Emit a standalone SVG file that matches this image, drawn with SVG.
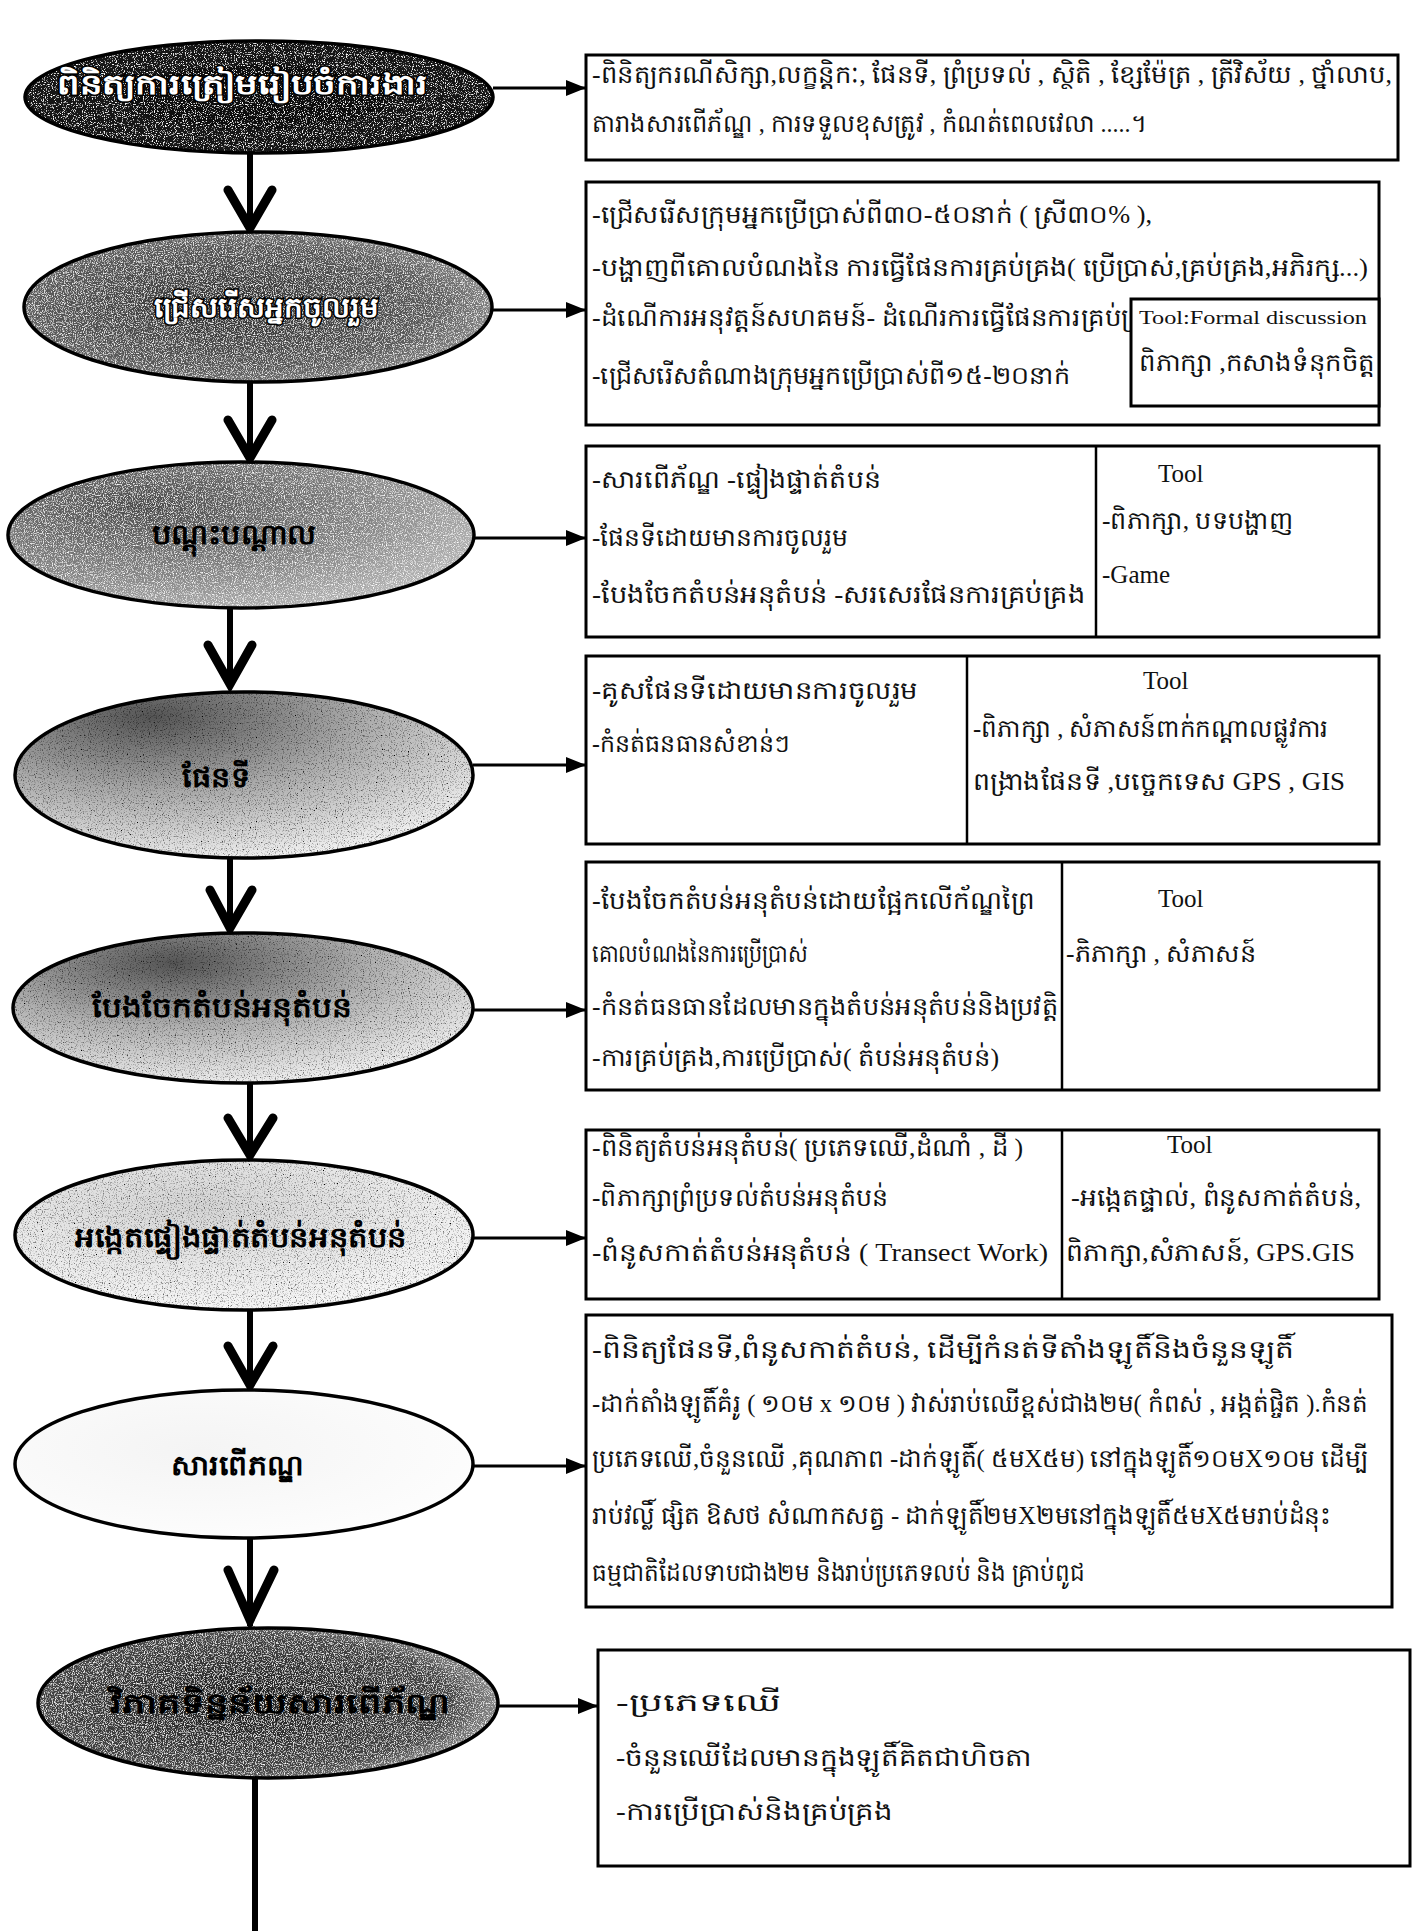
<svg xmlns="http://www.w3.org/2000/svg" width="1415" height="1931" viewBox="0 0 1415 1931">
<style>
.bg{fill:#fff}
.box{fill:#fff;stroke:#000;stroke-width:3}
.div{stroke:#000;stroke-width:2.5}
.t{font-family:"Liberation Serif","DejaVu Serif",serif;font-size:25px;fill:#111}
.tl{font-family:"Liberation Serif","DejaVu Serif",serif;font-size:25px;fill:#111}
.ts{font-family:"Liberation Serif","DejaVu Serif",serif;font-size:19px;fill:#111}
.lbl{font-family:"Liberation Sans","DejaVu Sans",sans-serif;font-size:28px;font-weight:bold;text-anchor:middle;fill:#000}
.lblw{font-family:"Liberation Sans","DejaVu Sans",sans-serif;font-size:28px;font-weight:bold;text-anchor:middle;fill:#fff;stroke:#000;stroke-width:3;paint-order:stroke}
.eo{fill:none;stroke:#000;stroke-width:3.5}
.v{stroke:#000;stroke-width:6;fill:none}
.vh{stroke:#000;stroke-width:9;fill:none;stroke-linecap:round;stroke-linejoin:miter}
.h{stroke:#000;stroke-width:3;fill:none}
</style>
<defs>
<marker id="tri" markerWidth="20" markerHeight="16" refX="19" refY="8" orient="auto" markerUnits="userSpaceOnUse" viewBox="0 0 20 16">
<path d="M0,0 L20,8 L0,16 z" fill="#000"/>
</marker>
<filter id="grain" x="0" y="0" width="100%" height="100%">
<feTurbulence type="fractalNoise" baseFrequency="0.9" numOctaves="2" seed="4" result="n"/>
<feColorMatrix in="n" type="matrix" values="0 0 0 0 1  0 0 0 0 1  0 0 0 0 1  0 0 0 -3 1.55" result="w"/>
<feComposite in="w" in2="SourceGraphic" operator="in" result="ws"/>
<feMerge><feMergeNode in="SourceGraphic"/><feMergeNode in="ws"/></feMerge>
</filter>
<filter id="grainL" x="0" y="0" width="100%" height="100%">
<feTurbulence type="fractalNoise" baseFrequency="0.9" numOctaves="2" seed="7" result="n"/>
<feColorMatrix in="n" type="matrix" values="0 0 0 0 1  0 0 0 0 1  0 0 0 0 1  0 0 0 -5 2.15" result="w"/>
<feComposite in="w" in2="SourceGraphic" operator="in" result="ws"/>
<feMerge><feMergeNode in="SourceGraphic"/><feMergeNode in="ws"/></feMerge>
</filter>
<filter id="grainD" x="0" y="0" width="100%" height="100%">
<feTurbulence type="fractalNoise" baseFrequency="0.85" numOctaves="2" seed="9" result="n"/>
<feColorMatrix in="n" type="matrix" values="0 0 0 0 0  0 0 0 0 0  0 0 0 0 0  0 0 0 -3 1.45" result="w"/>
<feComposite in="w" in2="SourceGraphic" operator="in" result="ws"/>
<feMerge><feMergeNode in="SourceGraphic"/><feMergeNode in="ws"/></feMerge>
</filter>
<radialGradient id="g1" cx="0.5" cy="0.5" r="0.6"><stop offset="0" stop-color="#080808"/><stop offset="1" stop-color="#1c1c1c"/></radialGradient>
<radialGradient id="g2" cx="0.45" cy="0.5" r="0.6"><stop offset="0" stop-color="#2e2e2e"/><stop offset="0.7" stop-color="#5a5a5a"/><stop offset="1" stop-color="#909090"/></radialGradient>
<radialGradient id="g3" cx="0.3" cy="0.3" r="0.8"><stop offset="0" stop-color="#4a4a4a"/><stop offset="0.6" stop-color="#858585"/><stop offset="1" stop-color="#b8b8b8"/></radialGradient>
<radialGradient id="g4" cx="0.3" cy="0.15" r="0.9"><stop offset="0" stop-color="#555"/><stop offset="0.5" stop-color="#aaa"/><stop offset="1" stop-color="#f2f2f2"/></radialGradient>
<radialGradient id="g5" cx="0.35" cy="0.2" r="0.85"><stop offset="0" stop-color="#555"/><stop offset="0.5" stop-color="#b0b0b0"/><stop offset="1" stop-color="#f3f3f3"/></radialGradient>
<radialGradient id="g6" cx="0.4" cy="0.3" r="0.8"><stop offset="0" stop-color="#d4d4d4"/><stop offset="1" stop-color="#fbfbfb"/></radialGradient>
<radialGradient id="g7" cx="0.4" cy="0.4" r="0.8"><stop offset="0" stop-color="#f4f4f4"/><stop offset="1" stop-color="#fff"/></radialGradient>
<radialGradient id="g8" cx="0.45" cy="0.5" r="0.6"><stop offset="0" stop-color="#1a1a1a"/><stop offset="0.75" stop-color="#444"/><stop offset="1" stop-color="#aaa"/></radialGradient>
</defs>
<rect class="bg" x="0" y="0" width="1415" height="1931"/>

<g id="connectors">
<line class="v" x1="250" y1="153" x2="250" y2="230"/>
<polyline class="vh" points="228,190 250,228 272,190"/>
<line class="v" x1="250" y1="382" x2="250" y2="460"/>
<polyline class="vh" points="228,420 250,458 272,420"/>
<line class="v" x1="230" y1="608" x2="230" y2="688"/>
<polyline class="vh" points="208,645 230,684 252,645"/>
<line class="v" x1="230" y1="858" x2="230" y2="932"/>
<polyline class="vh" points="210,890 230,928 252,890"/>
<line class="v" x1="250" y1="1083" x2="250" y2="1158"/>
<polyline class="vh" points="228,1118 250,1155 273,1118"/>
<line class="v" x1="250" y1="1310" x2="250" y2="1388"/>
<polyline class="vh" points="228,1346 250,1385 273,1346"/>
<line class="v" x1="250" y1="1538" x2="250" y2="1626"/>
<polyline class="vh" points="228,1570 250,1620 274,1570"/>
<line class="v" x1="255" y1="1778" x2="255" y2="1931"/>
<line class="h" x1="493" y1="88" x2="585" y2="88" marker-end="url(#tri)"/>
<line class="h" x1="492" y1="310" x2="585" y2="310" marker-end="url(#tri)"/>
<line class="h" x1="473" y1="538" x2="585" y2="538" marker-end="url(#tri)"/>
<line class="h" x1="473" y1="765" x2="585" y2="765" marker-end="url(#tri)"/>
<line class="h" x1="473" y1="1010" x2="585" y2="1010" marker-end="url(#tri)"/>
<line class="h" x1="473" y1="1238" x2="585" y2="1238" marker-end="url(#tri)"/>
<line class="h" x1="473" y1="1466" x2="585" y2="1466" marker-end="url(#tri)"/>
<line class="h" x1="498" y1="1706" x2="597" y2="1706" marker-end="url(#tri)"/>
</g>

<g id="node-e1">
<ellipse cx="259" cy="97" rx="234" ry="56" fill="url(#g1)" filter="url(#grainL)"/>
<ellipse class="eo" cx="259" cy="97" rx="234" ry="56"/>
<text class="lblw" x="242" y="94" textLength="370" lengthAdjust="spacingAndGlyphs">ពិនិត្យការត្រៀមរៀបចំការងារ</text>
</g>
<g id="node-e2">
<ellipse cx="258" cy="307" rx="234" ry="75" fill="url(#g2)" filter="url(#grain)"/>
<ellipse class="eo" cx="258" cy="307" rx="234" ry="75"/>
<text class="lblw" x="266" y="317" textLength="225" lengthAdjust="spacingAndGlyphs">ជ្រើសរើសអ្នកចូលរួម</text>
</g>
<g id="node-e3">
<ellipse cx="241" cy="535" rx="233" ry="73" fill="url(#g3)" filter="url(#grain)"/>
<ellipse class="eo" cx="241" cy="535" rx="233" ry="73"/>
<text class="lbl" x="234" y="544" textLength="165" lengthAdjust="spacingAndGlyphs">បណ្តុះបណ្តាល</text>
</g>
<g id="node-e4">
<ellipse cx="244" cy="775" rx="229" ry="83" fill="url(#g4)" filter="url(#grainD)"/>
<ellipse class="eo" cx="244" cy="775" rx="229" ry="83"/>
<text class="lbl" x="216" y="787" textLength="68" lengthAdjust="spacingAndGlyphs">ផែនទី</text>
</g>
<g id="node-e5">
<ellipse cx="243" cy="1008" rx="230" ry="75" fill="url(#g5)" filter="url(#grainD)"/>
<ellipse class="eo" cx="243" cy="1008" rx="230" ry="75"/>
<text class="lbl" x="222" y="1017" textLength="261" lengthAdjust="spacingAndGlyphs">បែងចែកតំបន់អនុតំបន់</text>
</g>
<g id="node-e6">
<ellipse cx="244" cy="1235" rx="229" ry="75" fill="url(#g6)" filter="url(#grainD)"/>
<ellipse class="eo" cx="244" cy="1235" rx="229" ry="75"/>
<text class="lbl" x="241" y="1247" textLength="332" lengthAdjust="spacingAndGlyphs">អង្កេតផ្ទៀងផ្ទាត់តំបន់អនុតំបន់</text>
</g>
<g id="node-e7">
<ellipse cx="244" cy="1464" rx="229" ry="74" fill="url(#g7)"/>
<ellipse class="eo" cx="244" cy="1464" rx="229" ry="74"/>
<text class="lbl" x="237" y="1475" textLength="133" lengthAdjust="spacingAndGlyphs">សារពើភណ្ឌ</text>
</g>
<g id="node-e8">
<ellipse cx="268" cy="1703" rx="230" ry="75" fill="url(#g8)" filter="url(#grain)"/>
<ellipse class="eo" cx="268" cy="1703" rx="230" ry="75"/>
<text class="lbl" x="280" y="1713" textLength="340" lengthAdjust="spacingAndGlyphs">វិភាគទិន្នន័យសារពើភ័ណ្ឌ</text>
</g>

<g id="box-b1">
<rect class="box" x="586" y="55" width="812" height="105"/>
<text class="t" x="592" y="83" textLength="800" lengthAdjust="spacingAndGlyphs">-ពិនិត្យករណីសិក្សា,លក្ខន្តិកៈ, ផែនទី, ព្រំប្រទល់ , ស្ថិតិ , ខ្សែម៉ែត្រ , ត្រីវិស័យ , ថ្នាំលាប,</text>
<text class="t" x="592" y="132" textLength="554" lengthAdjust="spacingAndGlyphs">តារាងសារពើភ័ណ្ឌ , ការទទួលខុសត្រូវ , កំណត់ពេលវេលា .....។</text>
</g>

<g id="box-b2">
<rect class="box" x="586" y="182" width="793" height="243"/>
<text class="t" x="592" y="223" textLength="560" lengthAdjust="spacingAndGlyphs">-ជ្រើសរើសក្រុមអ្នកប្រើប្រាស់ពី៣០-៥០នាក់ ( ស្រី៣០% ),</text>
<text class="t" x="592" y="276" textLength="776" lengthAdjust="spacingAndGlyphs">-បង្ហាញពីគោលបំណងនៃ ការធ្វើផែនការគ្រប់គ្រង( ប្រើប្រាស់,គ្រប់គ្រង,អភិរក្ស...)</text>
<text class="t" x="592" y="326" textLength="570" lengthAdjust="spacingAndGlyphs">-ដំណើការអនុវត្តន៍សហគមន៍- ដំណើរការធ្វើផែនការគ្រប់គ្រង</text>
<text class="t" x="592" y="384" textLength="478" lengthAdjust="spacingAndGlyphs">-ជ្រើសរើសតំណាងក្រុមអ្នកប្រើប្រាស់ពី១៥-២០នាក់</text>
<rect class="box" x="1131" y="299" width="248" height="107"/>
<text class="ts" x="1139" y="324" textLength="228" lengthAdjust="spacingAndGlyphs">Tool:Formal discussion</text>
<text class="t" x="1139" y="371" textLength="236" lengthAdjust="spacingAndGlyphs">ពិភាក្សា ,កសាងទំនុកចិត្ត</text>
</g>

<g id="box-b3">
<rect class="box" x="586" y="446" width="793" height="191"/>
<line class="div" x1="1096" y1="446" x2="1096" y2="637"/>
<text class="t" x="592" y="488" textLength="289" lengthAdjust="spacingAndGlyphs">-សារពើភ័ណ្ឌ -ផ្ទៀងផ្ទាត់តំបន់</text>
<text class="t" x="592" y="546" textLength="256" lengthAdjust="spacingAndGlyphs">-ផែនទីដោយមានការចូលរួម</text>
<text class="t" x="592" y="603" textLength="493" lengthAdjust="spacingAndGlyphs">-បែងចែកតំបន់អនុតំបន់ -សរសេរផែនការគ្រប់គ្រង</text>
<text class="tl" x="1158" y="482">Tool</text>
<text class="t" x="1102" y="529" textLength="191" lengthAdjust="spacingAndGlyphs">-ពិភាក្សា, បទបង្ហាញ</text>
<text class="tl" x="1102" y="583">-Game</text>
</g>

<g id="box-b4">
<rect class="box" x="586" y="656" width="793" height="188"/>
<line class="div" x1="967" y1="656" x2="967" y2="844"/>
<text class="t" x="592" y="699" textLength="326" lengthAdjust="spacingAndGlyphs">-គូសផែនទីដោយមានការចូលរួម</text>
<text class="t" x="592" y="752" textLength="197" lengthAdjust="spacingAndGlyphs">-កំនត់ធនធានសំខាន់ៗ</text>
<text class="tl" x="1143" y="689">Tool</text>
<text class="t" x="973" y="737" textLength="355" lengthAdjust="spacingAndGlyphs">-ពិភាក្សា , សំភាសន៍ពាក់កណ្តាលផ្លូវការ</text>
<text class="tl" x="973" y="790" textLength="372" lengthAdjust="spacingAndGlyphs">ពង្រាងផែនទី ,បច្ចេកទេស GPS , GIS</text>
</g>

<g id="box-b5">
<rect class="box" x="586" y="862" width="793" height="228"/>
<line class="div" x1="1062" y1="862" x2="1062" y2="1090"/>
<text class="t" x="592" y="909" textLength="443" lengthAdjust="spacingAndGlyphs">-បែងចែកតំបន់អនុតំបន់ដោយផ្អែកលើក័ណ្ឌព្រៃ</text>
<text class="t" x="592" y="962" textLength="216" lengthAdjust="spacingAndGlyphs">គោលបំណងនៃការប្រើប្រាស់</text>
<text class="t" x="592" y="1015" textLength="466" lengthAdjust="spacingAndGlyphs">-កំនត់ធនធានដែលមានក្នុងតំបន់អនុតំបន់និងប្រវត្តិ</text>
<text class="t" x="592" y="1066" textLength="407" lengthAdjust="spacingAndGlyphs">-ការគ្រប់គ្រង,ការប្រើប្រាស់( តំបន់អនុតំបន់)</text>
<text class="tl" x="1158" y="907">Tool</text>
<text class="t" x="1066" y="962" textLength="190" lengthAdjust="spacingAndGlyphs">-ភិភាក្សា , សំភាសន៍</text>
</g>

<g id="box-b6">
<rect class="box" x="586" y="1130" width="793" height="169"/>
<line class="div" x1="1062" y1="1130" x2="1062" y2="1299"/>
<text class="t" x="592" y="1156" textLength="431" lengthAdjust="spacingAndGlyphs">-ពិនិត្យតំបន់អនុតំបន់( ប្រភេទឈើ,ដំណាំ , ដី )</text>
<text class="t" x="592" y="1206" textLength="296" lengthAdjust="spacingAndGlyphs">-ពិភាក្សាព្រំប្រទល់តំបន់អនុតំបន់</text>
<text class="tl" x="592" y="1261" textLength="456" lengthAdjust="spacingAndGlyphs">-ពំនូសកាត់តំបន់អនុតំបន់ ( Transect Work)</text>
<text class="tl" x="1167" y="1153">Tool</text>
<text class="t" x="1071" y="1206" textLength="290" lengthAdjust="spacingAndGlyphs">-អង្កេតផ្ទាល់, ពំនូសកាត់តំបន់,</text>
<text class="tl" x="1066" y="1261" textLength="289" lengthAdjust="spacingAndGlyphs">ពិភាក្សា,សំភាសន៍, GPS.GIS</text>
</g>

<g id="box-b7">
<rect class="box" x="586" y="1315" width="806" height="292"/>
<text class="t" x="592" y="1358" textLength="702" lengthAdjust="spacingAndGlyphs">-ពិនិត្យផែនទី,ពំនូសកាត់តំបន់, ដើម្បីកំនត់ទីតាំងឡូតិ៍និងចំនួនឡូតិ៍</text>
<text class="t" x="592" y="1412" textLength="776" lengthAdjust="spacingAndGlyphs">-ដាក់តាំងឡូតិ៍គំរូ ( ១០ម x ១០ម ) វាស់រាប់ឈើខ្ពស់ជាង២ម( កំពស់ , អង្កត់ផ្ចិត ).កំនត់</text>
<text class="t" x="592" y="1467" textLength="776" lengthAdjust="spacingAndGlyphs">ប្រភេទឈើ,ចំនួនឈើ ,គុណភាព -ដាក់ឡូតិ៍( ៥មX៥ម) នៅក្នុងឡូតិ៍១០មX១០ម ដើម្បី</text>
<text class="t" x="592" y="1524" textLength="739" lengthAdjust="spacingAndGlyphs">រាប់វល្លិ៍ ផ្សិត ឱសថ សំណាកសត្វ - ដាក់ឡូតិ៍២មX២មនៅក្នុងឡូតិ៍៥មX៥មរាប់ដំនុះ</text>
<text class="t" x="592" y="1581" textLength="493" lengthAdjust="spacingAndGlyphs">ធម្មជាតិដែលទាបជាង២ម និងរាប់ប្រភេទលប់ និង គ្រាប់ពូជ</text>
</g>

<g id="box-b8">
<rect class="box" x="598" y="1650" width="812" height="216"/>
<text class="t" x="616" y="1711" textLength="166" lengthAdjust="spacingAndGlyphs">-ប្រភេទឈើ</text>
<text class="t" x="616" y="1766" textLength="416" lengthAdjust="spacingAndGlyphs">-ចំនួនឈើដែលមានក្នុងឡូតិ៍គិតជាហិចតា</text>
<text class="t" x="616" y="1820" textLength="277" lengthAdjust="spacingAndGlyphs">-ការប្រើប្រាស់និងគ្រប់គ្រង</text>
</g>
</svg>
